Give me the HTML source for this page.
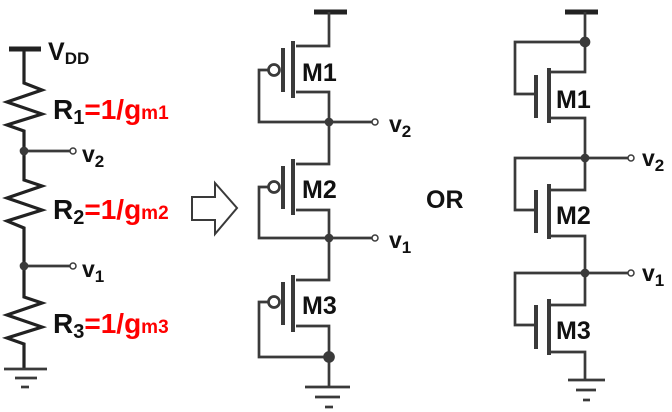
<!DOCTYPE html>
<html><head><style>
body{margin:0;background:#fff;}
svg{display:block;}
text{font-family:"Liberation Sans",sans-serif;font-weight:bold;}
</style></head><body>
<svg width="672" height="412" viewBox="0 0 672 412" xmlns="http://www.w3.org/2000/svg">
<g stroke="#3a3a3a" stroke-width="2.7" fill="none" stroke-linejoin="miter">
<line x1="9" y1="49" x2="41" y2="49" stroke-width="5" stroke="#222"/>
<polyline points="24,49 24,83 42,90 7,102 42,114 7,125 24,131 24,180 42,186 7,198 42,210 7,221 24,228 24,297 42,303 7,315 42,327 7,338 24,344 24,369" stroke-width="3.2" stroke="#222"/>
<line x1="24" y1="151" x2="70" y2="151"/>
<line x1="24" y1="266" x2="70" y2="266"/>
<circle cx="73" cy="151" r="3" fill="#fff" stroke-width="1.5"/>
<circle cx="73" cy="266" r="3" fill="#fff" stroke-width="1.5"/>
<circle cx="24" cy="151" r="3" fill="#3a3a3a"/>
<circle cx="24" cy="266" r="3" fill="#3a3a3a"/>
<line x1="4" y1="369" x2="47" y2="369"/>
<line x1="15" y1="378" x2="37" y2="378"/>
<line x1="21" y1="387" x2="29" y2="387"/>
<polygon points="192,197 215,197 215,183 237,208 215,234 215,220 192,220" stroke-width="2"/>
<line x1="314" y1="12" x2="347" y2="12" stroke-width="5" stroke="#222"/>
<polyline points="329,12 329,46 296,46"/>
<polyline points="296,92 329,92 329,164 296,164"/>
<polyline points="296,210 329,210 329,280 296,280"/>
<polyline points="296,326 329,326 329,387"/>
<g stroke-width="4">
<line x1="293" y1="41" x2="293" y2="98"/><line x1="283" y1="48" x2="283" y2="92"/>
<line x1="293" y1="159" x2="293" y2="215"/><line x1="283" y1="166" x2="283" y2="209"/>
<line x1="293" y1="275" x2="293" y2="332"/><line x1="283" y1="282" x2="283" y2="325"/>
</g>
<circle cx="274" cy="70" r="5.5"/><circle cx="274" cy="187" r="5.5"/><circle cx="274" cy="302" r="5.5"/>
<polyline points="268,70 259,70 259,122 329,122"/>
<polyline points="268,187 259,187 259,238 329,238"/>
<polyline points="268,302 259,302 259,357 329,357"/>
<line x1="329" y1="122" x2="372" y2="122"/>
<line x1="329" y1="238" x2="372" y2="238"/>
<circle cx="375" cy="122" r="3" fill="#fff" stroke-width="1.5"/>
<circle cx="375" cy="238" r="3" fill="#fff" stroke-width="1.5"/>
<circle cx="329" cy="122" r="3" fill="#3a3a3a"/>
<circle cx="329" cy="238" r="3" fill="#3a3a3a"/>
<circle cx="329" cy="357" r="4.5" fill="#3a3a3a"/>
<line x1="305" y1="387" x2="350" y2="387"/>
<line x1="315" y1="397" x2="340" y2="397"/>
<line x1="325" y1="407" x2="333" y2="407"/>
<line x1="565" y1="12" x2="598" y2="12" stroke-width="5" stroke="#222"/>
<polyline points="585,12 585,72 551,72"/>
<polyline points="551,118 585,118 585,190 551,190"/>
<polyline points="551,236 585,236 585,305 551,305"/>
<polyline points="551,352 585,352 585,380"/>
<g stroke-width="4">
<line x1="549" y1="68" x2="549" y2="123"/><line x1="536" y1="75" x2="536" y2="118"/>
<line x1="549" y1="184" x2="549" y2="239"/><line x1="536" y1="190" x2="536" y2="233"/>
<line x1="549" y1="299" x2="549" y2="355"/><line x1="536" y1="305" x2="536" y2="349"/>
</g>
<polyline points="585,42 515,42 515,94 536,94"/>
<polyline points="585,158 515,158 515,210 536,210"/>
<polyline points="585,273 515,273 515,325 536,325"/>
<line x1="585" y1="158" x2="628" y2="158"/>
<line x1="585" y1="273" x2="628" y2="273"/>
<circle cx="631" cy="158" r="3" fill="#fff" stroke-width="1.5"/>
<circle cx="631" cy="273" r="3" fill="#fff" stroke-width="1.5"/>
<circle cx="585" cy="42" r="4" fill="#3a3a3a"/>
<circle cx="585" cy="158" r="3" fill="#3a3a3a"/>
<circle cx="585" cy="273" r="3" fill="#3a3a3a"/>
<line x1="568" y1="380" x2="605" y2="380"/>
<line x1="576" y1="390" x2="596" y2="390"/>
<line x1="583" y1="400" x2="590" y2="400"/>
</g>
<g fill="#111">
<text x="48" y="60" font-size="25">V<tspan font-size="17" dy="4">DD</tspan></text>
<text x="82" y="162" font-size="23">v<tspan font-size="17" dy="5">2</tspan></text>
<text x="82" y="277" font-size="23">v<tspan font-size="17" dy="5">1</tspan></text>
<text x="389" y="132" font-size="23">v<tspan font-size="17" dy="5">2</tspan></text>
<text x="389" y="248" font-size="23">v<tspan font-size="17" dy="5">1</tspan></text>
<text x="642" y="166" font-size="23">v<tspan font-size="17" dy="5">2</tspan></text>
<text x="642" y="281" font-size="23">v<tspan font-size="17" dy="5">1</tspan></text>
<text x="302" y="81" font-size="25">M1</text>
<text x="302" y="198" font-size="25">M2</text>
<text x="302" y="314" font-size="25">M3</text>
<text x="556" y="108" font-size="25">M1</text>
<text x="556" y="224" font-size="25">M2</text>
<text x="556" y="339" font-size="25">M3</text>
<text x="426" y="208" font-size="25">OR</text>
</g>
<g font-size="28">
<text x="53" y="119" fill="#111" font-weight="normal">R<tspan font-size="20" dy="5">1</tspan><tspan fill="#f00" font-weight="bold" dy="-5">=1/g</tspan><tspan fill="#f00" font-size="19" font-weight="bold">m1</tspan></text>
<text x="53" y="219" fill="#111" font-weight="normal">R<tspan font-size="20" dy="5">2</tspan><tspan fill="#f00" font-weight="bold" dy="-5">=1/g</tspan><tspan fill="#f00" font-size="19" font-weight="bold">m2</tspan></text>
<text x="53" y="333" fill="#111" font-weight="normal">R<tspan font-size="20" dy="5">3</tspan><tspan fill="#f00" font-weight="bold" dy="-5">=1/g</tspan><tspan fill="#f00" font-size="19" font-weight="bold">m3</tspan></text>
</g>
</svg>
</body></html>
